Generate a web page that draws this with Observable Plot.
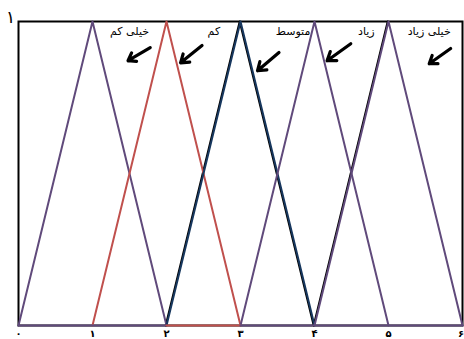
<!DOCTYPE html>
<html>
<head>
<meta charset="utf-8">
<script src="https://cdn.jsdelivr.net/npm/d3@7"></script>
<script src="https://cdn.jsdelivr.net/npm/@observablehq/plot@0.6"></script>
<style>
  html, body { margin: 0; padding: 0; background: #fff; }
</style>
</head>
<body>
<div id="chart"></div>
<script>
// ---- data ----
const xTicks = [0, 1, 2, 3, 4, 5, 6];
const xTickLabels = ["۰", "۱", "۲", "۳", "۴", "۵", "۶"];
const yTopLabel = "١";
const terms = ["خیلی کم", "کم", "متوسط", "زیاد", "خیلی زیاد"];
const lefts = [0, 1, 2, 3, 4];
const peaks = [1, 2, 3, 4, 5];
const rights = [2, 3, 4, 5, 6];
// label anchor positions (data units)
const labelX = [1.50, 2.64, 3.71, 4.70, 5.55];
const labelY = [0.967, 0.967, 0.967, 0.967, 0.967];
// arrows (tail -> head), data units
const arrowX1 = [1.78, 2.48, 3.52, 4.49, 5.84];
const arrowY1 = [0.914, 0.921, 0.898, 0.927, 0.911];
const arrowX2 = [1.48, 2.19, 3.23, 4.17, 5.55];
const arrowY2 = [0.871, 0.864, 0.838, 0.871, 0.861];

// ---- styles ----
const termColors = ["#604a7b", "#c0504d", "#17375e", "#604a7b", "#604a7b"];

// ---- derived tables ----
const tri = terms.flatMap((t, i) => [
  {term: t, x: lefts[i], y: 0},
  {term: t, x: peaks[i], y: 1},
  {term: t, x: rights[i], y: 0}
]);
const blackOverlay = [
  ...tri.filter(d => d.term === terms[2]),
  {term: "b5", x: lefts[4], y: 0}, {term: "b5", x: peaks[4], y: 1}
];
const baseline = [
  {term: terms[0], x: 0, y: 0}, {term: terms[0], x: 2, y: 0},
  {term: terms[1], x: 2, y: 0}, {term: terms[1], x: 3, y: 0},
  {term: terms[3], x: 3, y: 0}, {term: terms[3], x: 6, y: 0}
];
const labels = terms.map((t, i) => ({term: t, x: labelX[i], y: labelY[i]}));
const arrows = terms.map((t, i) => ({x1: arrowX1[i], y1: arrowY1[i], x2: arrowX2[i], y2: arrowY2[i]}));
const tickLabelOpts = {x: d => d, y: 0, text: d => xTickLabels[xTicks.indexOf(d)], dy: 4, lineAnchor: "top", fontSize: 10, fontWeight: "bold", fontFamily: "DejaVu Sans", fill: "black"};

const chart = Plot.plot({
  width: 464,
  height: 339,
  marginLeft: 18,
  marginRight: 2,
  marginTop: 21,
  marginBottom: 14,
  style: {background: "#fff", overflow: "visible"},
  x: {domain: [0, 6], axis: null},
  y: {domain: [0, 1], axis: null},
  color: {domain: terms, range: termColors},
  marks: [
    Plot.frame({stroke: "black", strokeWidth: 2}),
    Plot.line(blackOverlay, {x: "x", y: "y", z: "term", stroke: "black", strokeWidth: 2, dx: -0.8}),
    Plot.line(tri, {x: "x", y: "y", z: "term", stroke: "term", strokeWidth: 2}),
    Plot.line(baseline, {x: "x", y: "y", z: "term", stroke: "term", strokeWidth: 2.2}),
    Plot.arrow(arrows, {x1: "x1", y1: "y1", x2: "x2", y2: "y2", stroke: "black", strokeWidth: 3.2, headLength: 9, headAngle: 70, bend: 0}),
    Plot.text(labels, {x: "x", y: "y", text: "term", fontSize: 11, fill: "black", fontFamily: "DejaVu Sans", textAnchor: "middle"}),
    Plot.text(xTicks.slice(0, -1), tickLabelOpts),
    Plot.text(xTicks.slice(-1), {...tickLabelOpts, textAnchor: "end", dx: 1.5}),
    Plot.text([yTopLabel], {x: 0, y: 1, text: d => d, dx: -8, dy: -4, fontSize: 17, fontFamily: "DejaVu Sans", fill: "black"})
  ]
});
document.getElementById("chart").appendChild(chart);
</script>
</body>
</html>
